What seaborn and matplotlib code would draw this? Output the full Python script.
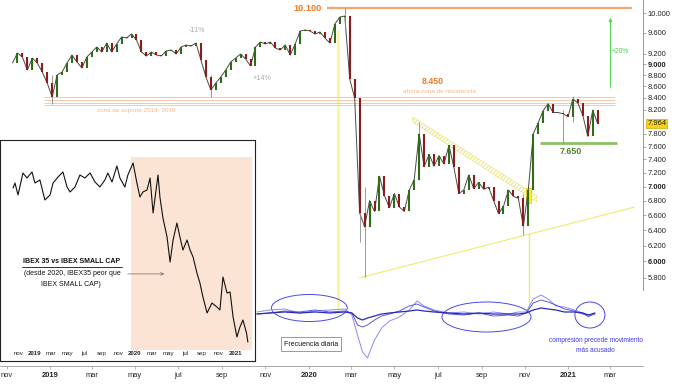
import pandas as pd
import matplotlib
matplotlib.use("Agg")
import matplotlib.pyplot as plt
import matplotlib.dates as mdates
import matplotlib.ticker as mticker
from matplotlib.patches import Ellipse
from matplotlib import font_manager
import seaborn as sns

# ================= datos =================
# IBEX 35, cierres semanales (viernes) desde 2018-11-09
WEEK0 = "2018-11-09"
closes = [
    9023, 9210, 9135, 8894, 9116, 9023, 8858, 8660, 8414, 8803,
    8858, 9023, 9173, 9042, 8931, 9135, 9230, 9325, 9230, 9402,
    9230, 9383, 9519, 9499, 9577, 9460, 9230, 9154, 9230, 9173,
    9154, 9249, 9268, 9192, 9325, 9363, 9344, 9402, 9079, 8767,
    8536, 8660, 8767, 8894, 9042, 9116, 9192, 9098, 8968, 9325,
    9421, 9383, 9421, 9306, 9268, 9363, 9173, 9383, 9637, 9657,
    9637, 9577, 9617, 9499, 9402, 9776, 9918, 9938, 8731, 8390,
    6630, 6443, 6800, 6650, 7150, 6870, 6700, 6900, 6711, 6650,
    6950, 7100, 7800, 7290, 7480, 7300, 7460, 7330, 7620, 7280,
    6900, 6950, 7170, 6970, 7060, 6960, 6990, 6800, 6620, 6720,
    6950, 6860, 6830, 6450, 6950, 7800, 7980, 8180, 8300, 8150,
    8150, 8130, 8080, 8380, 8310, 8100, 7760, 8190, 7964,
]
LAST = 7964

# mechas destacadas
wick_dates = ["2019-01-04", "2019-08-16", "2020-02-21", "2020-03-13", "2020-03-20",
              "2020-06-05", "2020-10-30", "2020-12-25", "2021-01-08"]
wick_lo = [8290, 8410, 9700, 6250, 5814, 7100, 6330, 7650, 8000]
wick_hi = [8800, 8800, 10100, 8000, 7000, 7990, 6900, 8200, 8430]

# niveles
TOP_LEVEL = 10100
SUPPORT = [8420, 8365, 8315, 8270]
GREEN_LEVEL = 7650

# escala derecha
YTICKS = [10000, 9600, 9200, 9000, 8800, 8600, 8400, 8200, 7800, 7600,
          7400, 7200, 7000, 6800, 6600, 6400, 6200, 6000, 5800]
YBOLD = [9000, 7000, 6000]

# oscilador (3 lineas)
osc_dates = ["2019-10-20", "2019-11-07", "2019-11-28", "2019-12-19", "2020-01-10", "2020-01-31",
             "2020-02-21", "2020-03-02", "2020-03-10", "2020-03-17", "2020-03-24", "2020-04-03",
             "2020-04-13", "2020-04-24", "2020-05-08", "2020-05-22", "2020-06-02", "2020-06-12",
             "2020-06-26", "2020-07-17", "2020-08-07", "2020-08-28", "2020-09-18", "2020-10-09",
             "2020-10-23", "2020-11-03", "2020-11-13", "2020-11-24", "2020-12-04", "2020-12-15",
             "2020-12-27", "2021-01-10", "2021-01-22", "2021-01-30", "2021-02-08"]
osc_a = [1, 3, 4, 0, 2, 3, 4, -2, -22, -39, -45, -27, -15, -8, -4, 3, 12, 7, 3, 0,
         1, -1, 1, -1, 1, 1, 14, 18, 14, 7, 6, 3, 0, -4, 0]
osc_b = [-1, 0, 2, 1, 3, 1, 2, 0, -12, -14, -12, -7, -3, -1, 2, 7, 9, 6, 2, -1,
         -2, 0, -3, -2, -3, 0, 10, 13, 11, 8, 4, 2, -1, -3, -1]
osc_c = [-1, 0, 1, 0, 1, 0, 1, 0, -5, -7, -5, -3, -1, 0, 1, 2, 3, 2, 1, 0,
         -1, 0, -1, -1, -1, 0, 3, 5, 4, 3, 1, 1, 0, -2, 0]

# ratio IBEX 35 / IBEX SMALL CAP (grafico insertado)
ratio_dates = ["2018-10-13", "2018-10-20", "2018-10-31", "2018-11-18", "2018-12-03", "2018-12-21",
               "2019-01-01", "2019-01-19", "2019-02-06", "2019-02-25", "2019-03-08", "2019-03-26",
               "2019-04-13", "2019-04-28", "2019-05-09", "2019-05-27", "2019-06-14", "2019-07-02",
               "2019-07-21", "2019-08-08", "2019-08-26", "2019-09-13", "2019-09-24", "2019-10-09",
               "2019-10-27", "2019-11-07", "2019-11-25", "2019-12-06", "2019-12-25", "2020-01-01",
               "2020-01-08", "2020-01-19", "2020-01-30", "2020-02-14", "2020-02-25", "2020-03-07",
               "2020-03-25", "2020-04-01", "2020-04-12", "2020-04-27", "2020-05-08", "2020-05-19",
               "2020-06-02", "2020-06-13", "2020-06-24", "2020-07-09", "2020-07-20", "2020-07-31",
               "2020-08-14", "2020-08-25", "2020-09-05", "2020-09-20", "2020-10-08", "2020-10-26",
               "2020-11-06", "2020-11-17", "2020-12-02", "2020-12-13", "2020-12-24", "2021-01-07",
               "2021-01-18", "2021-01-29", "2021-02-11", "2021-02-16"]
ratio_vals = [1.480, 1.500, 1.452, 1.540, 1.520, 1.544, 1.500, 1.512, 1.432, 1.452,
              1.500, 1.524, 1.544, 1.484, 1.464, 1.484, 1.532, 1.520, 1.540, 1.504,
              1.484, 1.512, 1.540, 1.504, 1.568, 1.520, 1.484, 1.532, 1.580, 1.540,
              1.500, 1.444, 1.464, 1.472, 1.520, 1.380, 1.532, 1.444, 1.360, 1.284,
              1.184, 1.272, 1.340, 1.284, 1.232, 1.272, 1.232, 1.204, 1.140, 1.100,
              1.044, 0.980, 1.020, 1.004, 0.992, 1.124, 1.060, 1.064, 0.964, 0.884,
              0.924, 0.952, 0.900, 0.864]

MESES = {1: "", 3: "mar", 5: "may", 7: "jul", 9: "sep", 11: "nov"}
# =========================================

names = {f.name for f in font_manager.fontManager.ttflist}
NARROW = "Liberation Sans Narrow" in names
FONT = "Liberation Sans Narrow" if NARROW else "Liberation Sans"
K = 1.15 if NARROW else 1.0

sns.set_theme(style="white")
plt.rcParams["font.family"] = [FONT, "DejaVu Sans"]
plt.rcParams["hatch.linewidth"] = 0.6

W, H = 676, 386


def box(x0, y0, x1, y1):
    return [x0 / W, 1 - y1 / H, (x1 - x0) / W, (y1 - y0) / H]


def D(s):
    return mdates.date2num(pd.Timestamp(s))


BASE = D("2019-01-01")
XLIM = (BASE - 70.6, BASE + 836.9)

fig = plt.figure(figsize=(W / 100, H / 100), dpi=100)
fig.patch.set_facecolor("white")

# ---------- grafico principal ----------
ax = fig.add_axes(box(0, 0, 643, 366))
dates = pd.date_range(WEEK0, periods=len(closes), freq="7D")
close_s = pd.Series(closes, index=dates)
open_s = close_s.shift(1).fillna(close_s.iloc[0])
up = close_s >= open_s

# velas: cuerpo desde el cierre anterior, linea fina de cierres
sns.lineplot(x=dates, y=closes, ax=ax, color="#4a4a4a", lw=0.7, zorder=3)
ax.vlines(pd.to_datetime(wick_dates), wick_lo, wick_hi, color="#8a8a8a", lw=0.6, zorder=3)
ax.vlines(dates[up], open_s[up], close_s[up], color="#2f6b18", lw=1.5, zorder=4)
ax.vlines(dates[~up], open_s[~up], close_s[~up], color="#8c1c1c", lw=1.5, zorder=4)

ax.set_yscale("log")
ax.set_xlim(*XLIM)
ax.set_ylim(4840, 10271)

# niveles horizontales
ax.hlines(TOP_LEVEL, D("2020-01-27"), D("2021-04-02"), color="#f6a66c", lw=1.6, zorder=2)
ax.text(D("2020-01-19"), TOP_LEVEL, "10.100", ha="right", va="center", color="#f07a22",
        fontsize=6.6 * K, fontweight="bold")
ax.hlines(SUPPORT, D("2018-12-23"), D("2021-03-08"), color="#f7c8a6", lw=0.7, zorder=2)
ax.text(D("2019-03-08"), 8190, "zona de soporte 2018- 2019", ha="left", va="center",
        color="#f6b888", fontsize=4.5 * K)
ax.text(D("2020-06-24"), 8695, "8.450", ha="center", va="center", color="#f07a22",
        fontsize=6.3 * K, fontweight="bold")
ax.text(D("2020-07-04"), 8518, "ahora zona de resistencia", ha="center", va="center",
        color="#f6b888", fontsize=4.6 * K)
ax.text(D("2019-07-28"), 9637, "-11%", ha="center", va="center", color="#ababab", fontsize=5.2 * K)
ax.text(D("2019-10-27"), 8749, "+14%", ha="center", va="center", color="#ababab", fontsize=5.2 * K)

# lineas amarillas
ax.vlines(D("2020-02-11"), 5456, 9656, color="#fbf79a", lw=2.2, zorder=1)
ax.vlines(D("2020-11-07"), 5398, 6364, color="#eeee44", lw=0.9, zorder=1)
ax.plot([D("2020-03-13"), D("2021-04-05")], [5803, 6710], color="#eeea70", lw=0.8, zorder=2)
ax.fill_between([D("2020-05-27"), D("2020-11-18")], [8076, 6866], [7990, 6780],
                facecolor="none", edgecolor="#e9e070", hatch="////////", lw=0.4, zorder=2)
ax.fill_between([D("2020-11-03"), D("2020-11-10")], 6770, 6980, facecolor="#ffee22",
                edgecolor="#e0c800", lw=0.5, zorder=2.5)

# soporte verde y objetivo
ax.hlines(GREEN_LEVEL, D("2020-11-23"), D("2021-03-11"), color="#8cc263", lw=2.0, zorder=2)
ax.text(D("2021-01-05"), 7528, "7.650", ha="center", va="center", color="#4d7f2d",
        fontsize=6.4 * K, fontweight="bold")
ax.annotate("", xy=(D("2021-03-02"), 9960), xytext=(D("2021-03-02"), 8535),
            arrowprops=dict(arrowstyle="-|>", color="#4ddb4d", lw=0.7, mutation_scale=5))
ax.text(D("2021-03-16"), 9230, "+20%", ha="center", va="center", color="#44cc44", fontsize=4.8 * K)

# ejes
for s in ["left", "top"]:
    ax.spines[s].set_visible(False)
ax.spines["right"].set_color("#8a8a8a")
ax.spines["right"].set_linewidth(0.6)
ax.spines["right"].set_bounds(5660, 10271)
ax.spines["bottom"].set_color("#9a9a9a")
ax.spines["bottom"].set_linewidth(0.6)

ax.yaxis.tick_right()
ax.set_yticks(YTICKS)
ax.set_yticklabels([f"{v:,}".replace(",", ".") for v in YTICKS])
ax.yaxis.set_minor_locator(mticker.NullLocator())
for lab, v in zip(ax.get_yticklabels(), YTICKS):
    if v in YBOLD:
        lab.set_fontweight("bold")
ax.tick_params(axis="y", right=True, left=False, direction="out", length=2, width=0.5,
               color="#8a8a8a", labelsize=5.4 * K, pad=1.5, labelcolor="#222222")
ax.annotate(f"{LAST:,}".replace(",", "."), xy=(1, LAST), xycoords=("axes fraction", "data"),
            xytext=(3.0, 0), textcoords="offset points", ha="left", va="center",
            fontsize=5.4 * K, color="#222222", annotation_clip=False,
            bbox=dict(boxstyle="square,pad=0.15", fc="#f7d117", ec="#d4a800", lw=0.5))

xt = pd.date_range("2018-11-01", "2021-03-01", freq="2MS")
ax.set_xticks(xt)
ax.set_xticklabels([str(d.year) if d.month == 1 else MESES[d.month] for d in xt])
for lab, d in zip(ax.get_xticklabels(), xt):
    if d.month == 1:
        lab.set_fontweight("bold")
ax.tick_params(axis="x", bottom=True, direction="out", length=2, width=0.5, color="#9a9a9a",
               labelsize=5.4 * K, pad=2, labelcolor="#222222")
ax.set_xlabel("")
ax.set_ylabel("")

# ---------- oscilador ----------
oax = fig.add_axes(box(0, 280, 643, 362))
od = pd.to_datetime(osc_dates)
sns.lineplot(x=od, y=osc_a, ax=oax, color="#8c8cf5", lw=0.7)
sns.lineplot(x=od, y=osc_b, ax=oax, color="#5a5ae6", lw=0.7)
sns.lineplot(x=od, y=osc_c, ax=oax, color="#2a2ab8", lw=0.9)
oax.set_xlim(*XLIM)
oax.set_ylim(-49, 33)
for (c, w, h) in [(("2020-01-02", 5), 107, 27), (("2020-09-08", -4), 125.6, 30),
                  (("2021-02-01", -2), 42.3, 26)]:
    oax.add_patch(Ellipse((D(c[0]), c[1]), w, h, fill=False, ec="#4a4ae6", lw=0.7))
oax.text(D("2020-01-04"), -31, "Frecuencia diaria", ha="center", va="center", fontsize=5.0 * K,
         color="#111111", bbox=dict(boxstyle="square,pad=0.45", fc="white", ec="#8a8a8a", lw=0.6))
oax.text(D("2021-02-09"), -27, "compresión precede movimiento", ha="center", va="center",
         fontsize=4.7 * K, color="#3a3aee")
oax.text(D("2021-02-09"), -38, "más acusado", ha="center", va="center",
         fontsize=4.7 * K, color="#3a3aee")
oax.axis("off")

# ---------- grafico insertado ----------
iax = fig.add_axes(box(0, 140, 255, 361))
iax.set_zorder(5)
iax.set_facecolor("white")
iax.axvspan(D("2019-12-17"), D("2021-03-03"), ymin=0.05, ymax=0.923, color="#fbe4d3", lw=0)
sns.lineplot(x=pd.to_datetime(ratio_dates), y=ratio_vals, ax=iax, color="#111111", lw=0.8)
iax.set_xlim(D("2019-01-01") - 127.7, D("2019-01-01") + 803)
iax.set_ylim(0.788, 1.672)
it = pd.date_range("2018-11-01", "2021-01-01", freq="2MS")
iax.set_xticks(it)
iax.set_xticklabels([str(d.year) if d.month == 1 else MESES[d.month] for d in it])
for lab, d in zip(iax.get_xticklabels(), it):
    if d.month == 1:
        lab.set_fontweight("bold")
iax.tick_params(axis="x", length=0, pad=-7, labelsize=4.4 * K, labelcolor="#222222")
iax.set_yticks([])
iax.set_xlabel("")
iax.set_ylabel("")
for s in iax.spines.values():
    s.set_color("#222222")
    s.set_linewidth(0.8)

iax.text(0.282, 0.448, "IBEX 35 vs IBEX SMALL CAP", transform=iax.transAxes, ha="center",
         va="center", fontsize=5.0 * K, fontweight="bold", color="#111111")
iax.plot([0.086, 0.478], [0.426, 0.426], transform=iax.transAxes, color="#111111", lw=0.6)
iax.text(0.282, 0.394, "(desde 2020, IBEX35 peor que", transform=iax.transAxes, ha="center",
         va="center", fontsize=5.0 * K, color="#111111")
iax.text(0.280, 0.344, "IBEX SMALL CAP)", transform=iax.transAxes, ha="center",
         va="center", fontsize=5.0 * K, color="#111111")
iax.annotate("", xy=(0.655, 0.394), xytext=(0.49, 0.394), xycoords="axes fraction",
             arrowprops=dict(arrowstyle="->", color="#666666", lw=0.5, mutation_scale=5))

fig.savefig("out.png", dpi=100)
